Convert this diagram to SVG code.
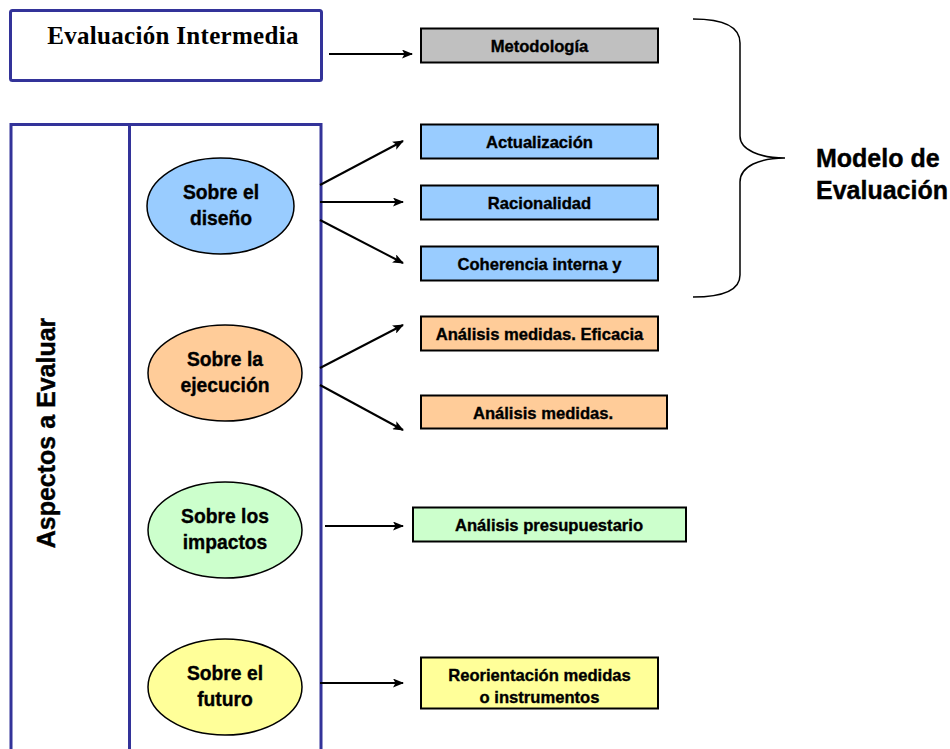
<svg xmlns="http://www.w3.org/2000/svg" width="950" height="749" viewBox="0 0 950 749">
<defs>
<marker id="ah" markerWidth="11" markerHeight="9" refX="10" refY="4.5" orient="auto" markerUnits="userSpaceOnUse">
<path d="M0,0 L11,4.5 L0,9 L2.5,4.5 Z" fill="#000"/>
</marker>
<style>
.frame{fill:#fff;stroke:#333399;stroke-width:3}
.vline{stroke:#333399;stroke-width:3}
.box{stroke:#000;stroke-width:2}
.ell{stroke:#000;stroke-width:1.5}
.bt{font-family:"Liberation Sans",Arial,sans-serif;font-weight:bold;font-size:16.6px;fill:#000;stroke:#000;stroke-width:0.35;text-anchor:middle}
.et{font-family:"Liberation Sans",Arial,sans-serif;font-weight:bold;font-size:19.3px;fill:#000;stroke:#000;stroke-width:0.35;text-anchor:middle}
.big{font-family:"Liberation Sans",Arial,sans-serif;font-weight:bold;font-size:25px;fill:#000;stroke:#000;stroke-width:0.4}
.conn{stroke:#000;stroke-width:2;fill:none;marker-end:url(#ah)}
</style>
</defs>
<g id="evaluacion-intermedia">
<rect class="frame" x="10.5" y="10.5" width="311" height="70" rx="2"/>
<text x="173" y="44" font-family="Liberation Serif,'Times New Roman',serif" font-weight="bold" font-size="25" letter-spacing="0.3" text-anchor="middle">Evaluación Intermedia</text>
</g>
<g id="aspectos">
<rect class="frame" x="11" y="124.5" width="310" height="640"/>
<line class="vline" x1="129.5" y1="124" x2="129.5" y2="749"/>
<text class="big" transform="translate(55,433) rotate(-90)" text-anchor="middle" font-size="25.5">Aspectos a Evaluar</text>
</g>
<g id="sobre-diseno">
<ellipse class="ell" cx="220.5" cy="206" rx="73.5" ry="48" fill="#99CCFF"/>
<text class="et" x="221" y="199">Sobre el</text>
<text class="et" x="221" y="225">diseño</text>
</g>
<g id="sobre-ejecucion">
<ellipse class="ell" cx="225" cy="373" rx="77" ry="48" fill="#FFCC99"/>
<text class="et" x="225" y="366">Sobre la</text>
<text class="et" x="225" y="392">ejecución</text>
</g>
<g id="sobre-impactos">
<ellipse class="ell" cx="225" cy="530" rx="77" ry="48" fill="#CCFFCC"/>
<text class="et" x="225" y="523">Sobre los</text>
<text class="et" x="225" y="549">impactos</text>
</g>
<g id="sobre-futuro">
<ellipse class="ell" cx="225" cy="687" rx="77" ry="48" fill="#FFFF99"/>
<text class="et" x="225" y="680">Sobre el</text>
<text class="et" x="225" y="706">futuro</text>
</g>
<g id="metodologia">
<rect class="box" x="421" y="28.5" width="237" height="34" fill="#C0C0C0"/>
<text class="bt" x="539.5" y="52">Metodología</text>
</g>
<g id="actualizacion">
<rect class="box" x="421" y="124.5" width="237" height="34" fill="#99CCFF"/>
<text class="bt" x="539.5" y="148">Actualización</text>
</g>
<g id="racionalidad">
<rect class="box" x="421" y="185.5" width="237" height="34" fill="#99CCFF"/>
<text class="bt" x="539.5" y="209">Racionalidad</text>
</g>
<g id="coherencia">
<rect class="box" x="421" y="246.5" width="237" height="34" fill="#99CCFF"/>
<text class="bt" x="539.5" y="270">Coherencia interna y</text>
</g>
<g id="eficacia">
<rect class="box" x="421" y="316.5" width="237" height="34" fill="#FFCC99"/>
<text class="bt" x="539.5" y="340">Análisis medidas. Eficacia</text>
</g>
<g id="medidas">
<rect class="box" x="421" y="395.5" width="246" height="33" fill="#FFCC99"/>
<text class="bt" x="543" y="419">Análisis medidas.</text>
</g>
<g id="presupuestario">
<rect class="box" x="413" y="507.5" width="273" height="34" fill="#CCFFCC"/>
<text class="bt" x="549" y="531">Análisis presupuestario</text>
</g>
<g id="reorientacion">
<rect class="box" x="421" y="657.5" width="237" height="51" fill="#FFFF99"/>
<text class="bt" x="539.5" y="681">Reorientación medidas</text>
<text class="bt" x="539.5" y="703">o instrumentos</text>
</g>
<g id="modelo">
<path d="M693,19 C725,19 740,28 740,43 L740,136 C740,150 760,158 785,158 C760,158 740,166 740,182 L740,275 C740,290 725,297 693,297" fill="none" stroke="#000" stroke-width="1.5"/>
<text class="big" x="816" y="167">Modelo de</text>
<text class="big" x="816" y="199">Evaluación</text>
</g>
<g id="connectors">
<line class="conn" x1="329" y1="54" x2="412" y2="54"/>
<line class="conn" x1="320" y1="185" x2="403" y2="141"/>
<line class="conn" x1="320" y1="202" x2="403" y2="202"/>
<line class="conn" x1="320" y1="220" x2="403" y2="263"/>
<line class="conn" x1="320" y1="368" x2="403" y2="325"/>
<line class="conn" x1="320" y1="385" x2="403" y2="430"/>
<line class="conn" x1="325" y1="526" x2="403" y2="526"/>
<line class="conn" x1="320" y1="683" x2="403" y2="683"/>
</g>
</svg>
